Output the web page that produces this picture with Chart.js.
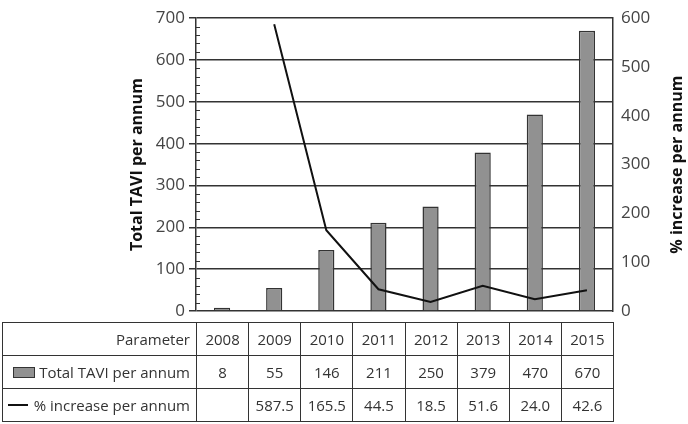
<!DOCTYPE html>
<html>
<head>
<meta charset="utf-8">
<script src="https://cdn.jsdelivr.net/npm/chart.js@4"></script>
<style>
  html, body { margin: 0; padding: 0; background: #fff; }
  #wrap { position: relative; width: 688px; height: 424px; }
  #wrap canvas { position: absolute; left: 0; top: 0; }
  #dataTable {
    position: absolute;
    border-collapse: collapse;
    font-family: "Open Sans", sans-serif;
    font-size: 15px;
    color: #333;
    table-layout: fixed;
  }
  #dataTable td {
    border: 1.5px solid #333;
    height: 32px;
    padding: 0;
    text-align: center;
    white-space: nowrap;
  }
  #dataTable td.head { text-align: right; padding-right: 6px; }
  .swatch-bar {
    display: inline-block; width: 20px; height: 9px;
    background: #919191; border: 1.5px solid #333;
    vertical-align: middle; margin-right: 4px; margin-top: -3px;
  }
  .swatch-line {
    display: inline-block; width: 20px; height: 2px;
    background: #111; vertical-align: middle; margin-right: 6px; margin-top: -3px;
  }
</style>
</head>
<body>
<div id="wrap">
  <canvas id="chart" width="688" height="424"></canvas>
  <table id="dataTable"></table>
</div>
<script>
const years = ['2008', '2009', '2010', '2011', '2012', '2013', '2014', '2015'];
const totalTavi = [8, 55, 146, 211, 250, 379, 470, 670];
const pctIncrease = [null, 587.5, 165.5, 44.5, 18.5, 51.6, 24.0, 42.6];
const pctLabels = ['', '587.5', '165.5', '44.5', '18.5', '51.6', '24.0', '42.6'];
const leftTicks = [0, 100, 200, 300, 400, 500, 600, 700];
const rightTicks = [0, 100, 200, 300, 400, 500, 600];

const ink = '#333';
const tickFont = { family: 'Open Sans', size: 17 };
const titleFont = { family: 'Open Sans', size: 16, weight: 'bold' };

// small ticks every 20 on the left axis, inside the plot
const minorTicks = {
    id: 'minorTicks',
    afterDraw(chart) {
        const y = chart.scales.y;
        const ctx = chart.ctx;
        ctx.save();
        ctx.strokeStyle = ink;
        ctx.lineWidth = 1;
        for (let v = 20; v < 700; v += 20) {
            if (v % 100 === 0) continue;
            const py = Math.round(y.getPixelForValue(v)) + 0.5;
            ctx.beginPath();
            ctx.moveTo(y.right, py);
            ctx.lineTo(y.right + 4, py);
            ctx.stroke();
        }
        ctx.restore();
    }
};

// right axis title reads bottom-to-top like the left one
const rightTitle = {
    id: 'rightTitle',
    afterDraw(chart) {
        const a = chart.chartArea;
        const ctx = chart.ctx;
        ctx.save();
        ctx.translate(677, (a.top + a.bottom) / 2);
        ctx.rotate(-Math.PI / 2);
        ctx.font = 'bold 16px "Open Sans"';
        ctx.fillStyle = '#111';
        ctx.textAlign = 'center';
        ctx.textBaseline = 'middle';
        ctx.fillText('% increase per annum', 0, 0);
        ctx.restore();
    }
};

const ctx = document.getElementById('chart').getContext('2d');
const chart = new Chart(ctx, {
    type: 'bar',
    data: {
        labels: years,
        datasets: [
            {
                type: 'line',
                label: '% increase per annum',
                data: pctIncrease,
                yAxisID: 'y1',
                borderColor: '#111',
                borderWidth: 2,
                pointRadius: 0,
                tension: 0,
                order: 0
            },
            {
                type: 'bar',
                label: 'Total TAVI per annum',
                data: totalTavi,
                yAxisID: 'y',
                backgroundColor: '#919191',
                borderColor: ink,
                borderWidth: 1.5,
                barPercentage: 0.62,
                categoryPercentage: 0.5,
                order: 1
            }
        ]
    },
    options: {
        responsive: false,
        animation: false,
        layout: { padding: { top: 7, bottom: 113, left: 128, right: 0 } },
        plugins: {
            legend: { display: false },
            tooltip: { enabled: false }
        },
        scales: {
            x: {
                display: false,
                grid: { display: false }
            },
            y: {
                position: 'left',
                min: 0,
                max: 700,
                afterBuildTicks: axis => { axis.ticks = leftTicks.map(v => ({ value: v })); },
                afterFit: axis => { axis.width = 68; },
                ticks: { font: tickFont, color: '#444', padding: 4 },
                grid: {
                    color: ink,
                    lineWidth: 1.5,
                    tickLength: 7,
                    drawTicks: true
                },
                border: { display: true, color: ink, width: 1.5 },
                title: {
                    display: true,
                    text: 'Total TAVI per annum',
                    font: titleFont,
                    color: '#111',
                    padding: 0
                }
            },
            y1: {
                position: 'right',
                min: 0,
                max: 600,
                afterBuildTicks: axis => { axis.ticks = rightTicks.map(v => ({ value: v })); },
                afterFit: axis => { axis.width = 75; },
                ticks: { font: tickFont, color: '#444', padding: 8 },
                grid: { display: false, drawTicks: false },
                border: { display: true, color: ink, width: 1.5 },
                title: { display: false }
            }
        }
    },
    plugins: [minorTicks, rightTitle]
});

// data table aligned with the category columns
function buildTable() {
    const area = chart.chartArea;
    const colW = (area.right - area.left) / years.length;
    const table = document.getElementById('dataTable');
    table.style.left = '2px';
    table.style.top = (area.bottom + 11) + 'px';

    let html = '<colgroup><col style="width:' + (area.left - 2) + 'px">';
    years.forEach(() => { html += '<col style="width:' + colW + 'px">'; });
    html += '</colgroup>';

    html += '<tr><td class="head">Parameter</td>';
    years.forEach(y => { html += '<td>' + y + '</td>'; });
    html += '</tr>';

    html += '<tr><td class="head"><span class="swatch-bar"></span>Total TAVI per annum</td>';
    totalTavi.forEach(v => { html += '<td>' + v + '</td>'; });
    html += '</tr>';

    html += '<tr><td class="head"><span class="swatch-line"></span>% increase per annum</td>';
    pctLabels.forEach(v => { html += '<td>' + v + '</td>'; });
    html += '</tr>';

    table.innerHTML = html;
    table.style.width = (area.right - 2) + 'px';
}
buildTable();
</script>
</body>
</html>
